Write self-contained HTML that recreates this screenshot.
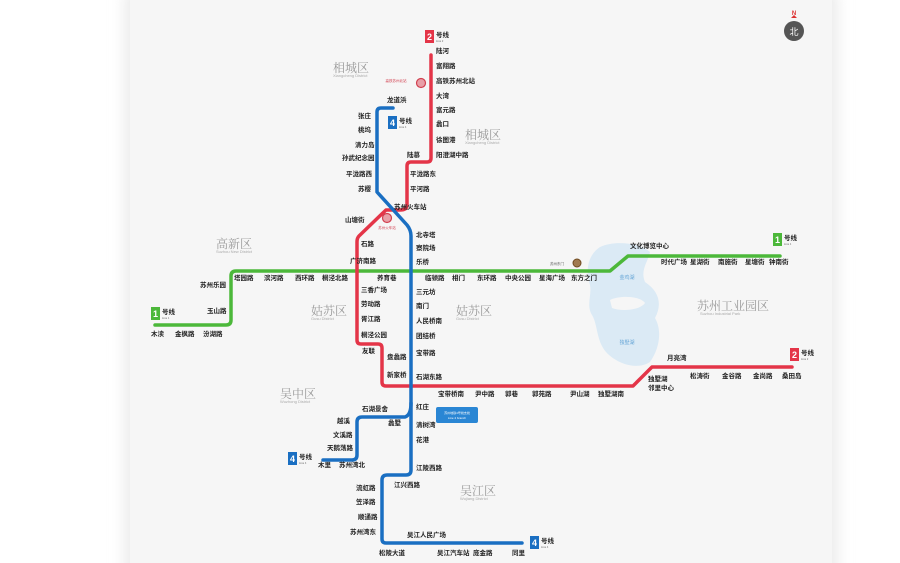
<!DOCTYPE html>
<html><head><meta charset="utf-8"><style>
html,body{margin:0;padding:0;background:#fff;}
svg{display:block;}
text{font-family:"Liberation Sans","Noto Sans CJK SC",sans-serif;}
.s{font-size:6.5px;font-weight:bold;fill:#222;}
.e{font-size:2.5px;fill:#888;}
.d{font-family:"Noto Serif CJK SC","Liberation Serif",serif;font-size:12px;fill:#9a9a9a;}
.de{font-size:4px;fill:#aaa;}
</style></head><body>
<svg width="900" height="563" viewBox="0 0 900 563" xmlns="http://www.w3.org/2000/svg">
<defs>
<filter id="sh" x="-5%" y="-5%" width="110%" height="110%"><feGaussianBlur stdDeviation="8"/></filter>
</defs>
<rect x="0" y="0" width="900" height="563" fill="#fff"/>
<rect x="126" y="-10" width="710" height="590" fill="#e8e8e8" filter="url(#sh)"/>
<rect x="130" y="-10" width="702" height="590" fill="#f6f6f6"/>

<!-- lake -->
<path d="M600,247 C615,240 640,243 650,252 C648,262 640,270 645,282 C660,292 662,305 655,318 C662,330 660,348 650,362 C638,370 618,365 606,352 C596,340 598,325 592,315 C586,305 592,295 590,285 C585,270 588,255 600,247Z" fill="#dbeaf5"/>
<path d="M610,300 C620,295 640,296 645,303 C640,310 622,312 612,308Z" fill="#f6f6f6"/>
<text x="627" y="279" font-size="5" fill="#6aa8d8" text-anchor="middle">金鸡湖</text>
<text x="627" y="344" font-size="5" fill="#6aa8d8" text-anchor="middle">独墅湖</text>

<!-- districts -->
<text class="d" x="333" y="72">相城区</text><text class="de" x="333" y="77">Xiangcheng District</text>
<text class="d" x="465" y="139">相城区</text><text class="de" x="465" y="144">Xiangcheng District</text>
<text class="d" x="216" y="248">高新区</text><text class="de" x="216" y="253">Suzhou New District</text>
<text class="d" x="311" y="315">姑苏区</text><text class="de" x="311" y="320">Gusu District</text>
<text class="d" x="456" y="315">姑苏区</text><text class="de" x="456" y="320">Gusu District</text>
<text class="d" x="697" y="310">苏州工业园区</text><text class="de" x="700" y="315">Suzhou Industrial Park</text>
<text class="d" x="280" y="398">吴中区</text><text class="de" x="280" y="403">Wuzhong District</text>
<text class="d" x="460" y="495">吴江区</text><text class="de" x="460" y="500">Wujiang District</text>

<!-- lines -->
<g fill="none" stroke-width="3.5" stroke-linejoin="round" stroke-linecap="round">
<path d="M155,325 H226 Q231,325 231,320 V276 Q231,271 236,271 H610 L628,256 H780" stroke="#4cb83a"/>
<path d="M431,55 V158 Q431,162 427,162 H411 Q407,162 407,166 V205 Q407,210 400,210 H386 L359,236 Q357,238 357,242 V340 Q357,344 361,344 H378 Q382,344 382,348 V382 Q382,386 386,386 H633 L652,367 H792" stroke="#e43548"/>
<path d="M393,108 H381 Q377,108 377,112 V192 L407,225 Q411,230 411,236 V470 Q411,475 406,475 H387 Q382,475 382,480 V539 Q382,543 386,543 H522" stroke="#1a6fc2"/>
<path d="M411,403 Q411,415 405,417 H362 Q357,417 357,422 V455 Q357,460 352,460 H323" stroke="#1a6fc2"/>
</g>

<!-- interchange icons -->
<circle cx="421" cy="83" r="4.5" fill="#e8a0a8" stroke="#d24050" stroke-width="1.2"/>
<text x="396" y="82" font-size="3.5" fill="#d24050" text-anchor="middle">高铁苏州北站</text>
<circle cx="387" cy="218" r="4.5" fill="#e8a0a8" stroke="#d24050" stroke-width="1.2"/>
<text x="387" y="229" font-size="3.5" fill="#d24050" text-anchor="middle">苏州火车站</text>
<circle cx="577" cy="263" r="4" fill="#a07a50" stroke="#704a20" stroke-width="1"/>
<text x="557" y="265" font-size="3.5" fill="#555" text-anchor="middle">苏州东门</text>
<rect x="436" y="407" width="42" height="16" rx="2" fill="#2a86d4"/>
<text x="457" y="414" font-size="3" fill="#fff" text-anchor="middle">苏州地铁4号线支线</text>
<text x="457" y="419" font-size="3" fill="#fff" text-anchor="middle">Line 4 branch</text>

<!-- badges -->
<g font-family="Liberation Sans,sans-serif" font-weight="bold">
<rect x="425" y="30" width="9" height="13" fill="#e43548"/><text x="429.5" y="40" font-size="9" fill="#fff" text-anchor="middle">2</text>
<text class="s" x="436" y="37">号线</text><text class="e" x="436" y="42" font-size="4">Line 2</text>
<rect x="388" y="116" width="9" height="13" fill="#1a6fc2"/><text x="392.5" y="126" font-size="9" fill="#fff" text-anchor="middle">4</text>
<text class="s" x="399" y="123">号线</text><text class="e" x="399" y="128">Line 4</text>
<rect x="151" y="307" width="9" height="13" fill="#4cb83a"/><text x="155.5" y="317" font-size="9" fill="#fff" text-anchor="middle">1</text>
<text class="s" x="162" y="314">号线</text><text class="e" x="162" y="319">Line 1</text>
<rect x="773" y="233" width="9" height="13" fill="#4cb83a"/><text x="777.5" y="243" font-size="9" fill="#fff" text-anchor="middle">1</text>
<text class="s" x="784" y="240">号线</text><text class="e" x="784" y="245">Line 1</text>
<rect x="790" y="348" width="9" height="13" fill="#e43548"/><text x="794.5" y="358" font-size="9" fill="#fff" text-anchor="middle">2</text>
<text class="s" x="801" y="355">号线</text><text class="e" x="801" y="360">Line 2</text>
<rect x="288" y="452" width="9" height="13" fill="#1a6fc2"/><text x="292.5" y="462" font-size="9" fill="#fff" text-anchor="middle">4</text>
<text class="s" x="299" y="459">号线</text><text class="e" x="299" y="464">Line 4</text>
<rect x="530" y="536" width="9" height="13" fill="#1a6fc2"/><text x="534.5" y="546" font-size="9" fill="#fff" text-anchor="middle">4</text>
<text class="s" x="541" y="543">号线</text><text class="e" x="541" y="548">Line 4</text>
</g>

<!-- compass -->
<text x="794" y="15" font-size="6" fill="#d33" text-anchor="middle" font-weight="bold">N</text>
<path d="M791,18 L794,15 L797,18Z" fill="#d33"/>
<circle cx="794" cy="31" r="10" fill="#555"/>
<text x="794" y="35" font-size="9" fill="#fff" text-anchor="middle">北</text>

<!-- stations -->
<g class="s">
<text x="436" y="53">陆河</text><text x="436" y="68">富翔路</text><text x="436" y="83">高铁苏州北站</text><text x="436" y="98">大湾</text><text x="436" y="112">富元路</text><text x="436" y="126">蠡口</text><text x="436" y="142">徐图港</text><text x="436" y="157">阳澄湖中路</text>
<text x="407" y="157">陆慕</text><text x="410" y="176">平泷路东</text><text x="410" y="191">平河路</text><text x="394" y="209">苏州火车站</text>
<text x="387" y="102">龙道浜</text>
<text x="358" y="118">张庄</text><text x="358" y="132">桃坞</text><text x="355" y="147">清力岛</text><text x="342" y="160">孙武纪念园</text><text x="346" y="176">平泷路西</text><text x="358" y="191">苏樱</text>
<text x="345" y="222">山塘街</text><text x="361" y="246">石路</text><text x="350" y="263">广济南路</text>
<text x="416" y="237">北寺塔</text><text x="416" y="250">察院场</text><text x="416" y="264">乐桥</text>
<text x="416" y="294">三元坊</text><text x="416" y="308">南门</text><text x="416" y="323">人民桥南</text><text x="416" y="338">团结桥</text><text x="416" y="355">宝带路</text><text x="416" y="379">石湖东路</text>
<text x="416" y="409">红庄</text><text x="416" y="427">清树湾</text><text x="416" y="442">花港</text><text x="416" y="470">江陵西路</text>
<text x="394" y="487">江兴西路</text><text x="407" y="537">吴江人民广场</text>
<text x="379" y="555">松陵大道</text><text x="437" y="555">吴江汽车站</text><text x="473" y="555">庞金路</text><text x="512" y="555">同里</text>
<text x="356" y="490">流虹路</text><text x="356" y="504">笠泽路</text><text x="358" y="519">顺通路</text><text x="350" y="534">苏州湾东</text>
<text x="361" y="292">三香广场</text><text x="361" y="306">劳动路</text><text x="361" y="321">胥江路</text><text x="361" y="337">桐泾公园</text><text x="362" y="353">友联</text>
<text x="387" y="359">盘蠡路</text><text x="387" y="377">新家桥</text>
<text x="438" y="396">宝带桥南</text><text x="475" y="396">尹中路</text><text x="505" y="396">郭巷</text><text x="532" y="396">郭苑路</text><text x="570" y="396">尹山湖</text><text x="598" y="396">独墅湖南</text>
<text x="648" y="381">独墅湖</text><text x="648" y="390">邻里中心</text><text x="667" y="360">月亮湾</text>
<text x="690" y="378">松涛街</text><text x="722" y="378">金谷路</text><text x="753" y="378">金尚路</text><text x="782" y="378">桑田岛</text>
<text x="362" y="411">石湖景舍</text><text x="337" y="423">越溪</text><text x="333" y="437">文溪路</text><text x="327" y="450">天鹅荡路</text><text x="388" y="425">蠡墅</text>
<text x="318" y="467">木里</text><text x="339" y="467">苏州湾北</text>
<text x="200" y="287">苏州乐园</text><text x="207" y="313">玉山路</text>
<text x="151" y="336">木渎</text><text x="175" y="336">金枫路</text><text x="203" y="336">汾湖路</text>
<text x="234" y="280">塔园路</text><text x="264" y="280">滨河路</text><text x="295" y="280">西环路</text><text x="322" y="280">桐泾北路</text><text x="377" y="280">养育巷</text>
<text x="425" y="280">临顿路</text><text x="452" y="280">相门</text><text x="477" y="280">东环路</text><text x="505" y="280">中央公园</text><text x="539" y="280">星海广场</text><text x="571" y="280">东方之门</text>
<text x="630" y="248">文化博览中心</text><text x="661" y="264">时代广场</text><text x="690" y="264">星湖街</text><text x="718" y="264">南施街</text><text x="745" y="264">星塘街</text><text x="769" y="264">钟南街</text>
</g>
</svg>
</body></html>
